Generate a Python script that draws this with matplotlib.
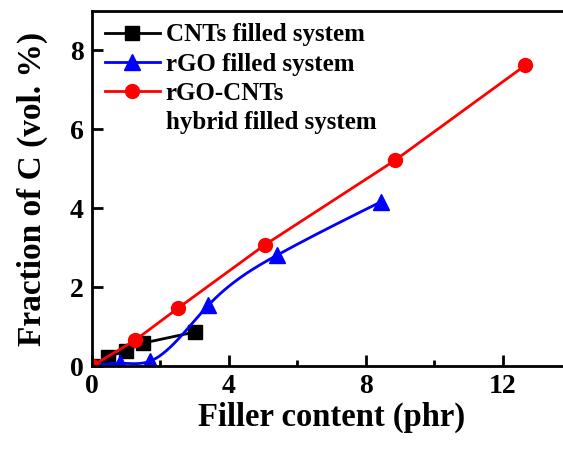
import numpy as np
import matplotlib.pyplot as plt
from matplotlib.ticker import MultipleLocator

# data
cnt_x = [0.0, 0.47, 1.0, 1.49, 3.0]
cnt_y = [0.0, 0.23, 0.39, 0.58, 0.86]

rgo_x = [0.0, 0.82, 1.69, 3.4, 5.41, 8.44]
rgo_y = [0.0, 0.07, 0.12, 1.54, 2.81, 4.16]

hyb_x = [0.0, 1.27, 2.52, 5.05, 8.85, 12.66]
hyb_y = [0.0, 0.66, 1.47, 3.07, 5.21, 7.62]

labels = ["CNTs filled system", "rGO filled system", "rGO-CNTs", "hybrid filled system"]


def natural_spline(x, y, n=400):
    # smooth connecting line through the points (Origin-style spline)
    x = np.asarray(x, float)
    y = np.asarray(y, float)
    k = len(x)
    h = np.diff(x)
    A = np.zeros((k, k))
    b = np.zeros(k)
    A[0, 0] = A[-1, -1] = 1.0
    for i in range(1, k - 1):
        A[i, i - 1] = h[i - 1]
        A[i, i] = 2 * (h[i - 1] + h[i])
        A[i, i + 1] = h[i]
        b[i] = 6 * ((y[i + 1] - y[i]) / h[i] - (y[i] - y[i - 1]) / h[i - 1])
    m = np.linalg.solve(A, b)
    xs = np.linspace(x[0], x[-1], n)
    idx = np.clip(np.searchsorted(x, xs) - 1, 0, k - 2)
    x0, x1 = x[idx], x[idx + 1]
    hh = x1 - x0
    t1 = x1 - xs
    t0 = xs - x0
    ys = (m[idx] * t1 ** 3 + m[idx + 1] * t0 ** 3) / (6 * hh) \
        + (y[idx] / hh - m[idx] * hh / 6) * t1 \
        + (y[idx + 1] / hh - m[idx + 1] * hh / 6) * t0
    return xs, ys


plt.rcParams["font.family"] = ["Liberation Serif", "DejaVu Serif"]
plt.rcParams["font.weight"] = "bold"

fig = plt.figure(figsize=(5.63, 4.49), dpi=100)
ax = fig.add_axes([92 / 563, 83 / 449, 479 / 563, 355 / 449])

lw = 2.0
ax.plot(cnt_x, cnt_y, color="black", lw=lw, marker="s", ms=10, label=labels[0])

sx, sy = natural_spline(rgo_x, rgo_y)
ax.plot(sx, sy, color="blue", lw=lw)
ax.plot(rgo_x, rgo_y, color="blue", lw=0, marker="^", ms=11)
ax.plot([], [], color="blue", lw=lw, marker="^", ms=11, label=labels[1])

ax.plot(hyb_x, hyb_y, color="red", lw=lw, marker="o", ms=10, label=labels[2])
# second line of the hybrid label, no handle
ax.plot([], [], lw=0, label=labels[3])

ax.set_xlim(0, 14)
ax.set_ylim(0, 9)
ax.xaxis.set_major_locator(MultipleLocator(4))
ax.xaxis.set_minor_locator(MultipleLocator(2))
ax.yaxis.set_major_locator(MultipleLocator(2))
ax.tick_params(which="major", direction="in", length=8, width=2, labelsize=20, pad=6)
ax.tick_params(which="minor", direction="in", length=4, width=2)
for s in ax.spines.values():
    s.set_linewidth(2)
for lab in ax.get_xticklabels() + ax.get_yticklabels():
    lab.set_fontweight("bold")

ax.set_xlabel("Filler content (phr)", fontsize=23.5, fontweight="bold", labelpad=2)
ax.set_ylabel("Fraction of C (vol. %)", fontsize=24, fontweight="bold", labelpad=16)

leg = ax.legend(loc="upper left", frameon=False, handlelength=2.2,
                handletextpad=0.25, labelspacing=0.25, borderaxespad=0.1,
                prop={"weight": "bold", "size": 18})

fig.savefig("out.png", dpi=100)
